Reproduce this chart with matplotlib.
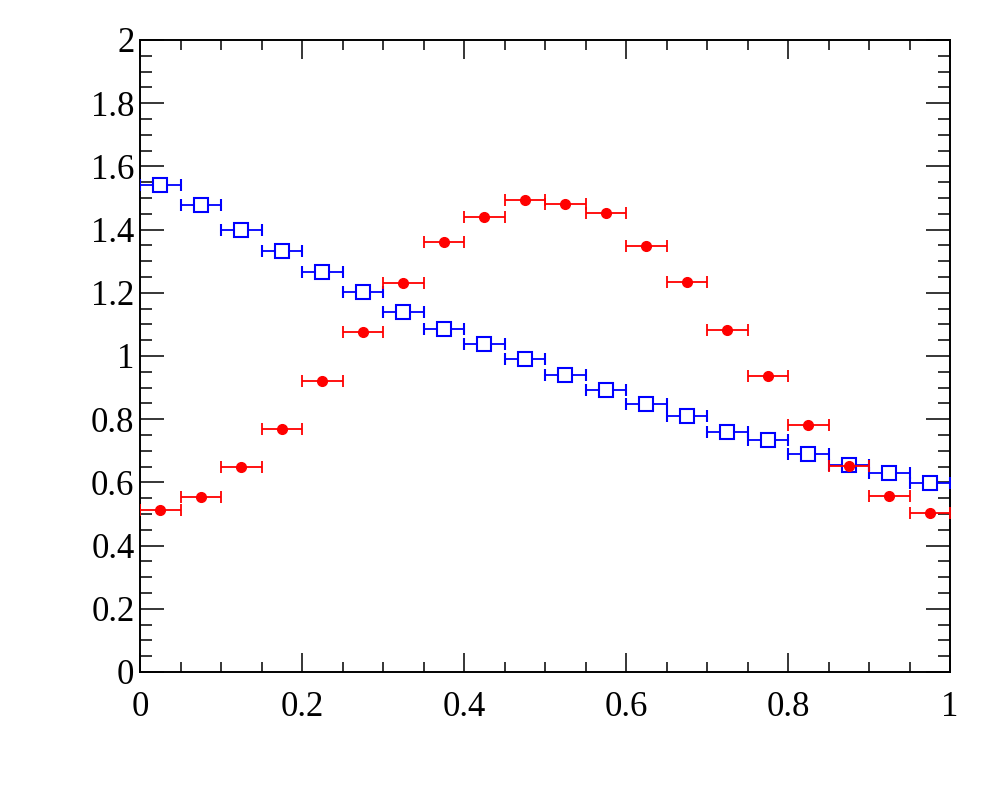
import matplotlib
matplotlib.use("Agg")
import matplotlib.pyplot as plt
from matplotlib.ticker import MultipleLocator, FuncFormatter

bin_centers = [0.025, 0.075, 0.125, 0.175, 0.225, 0.275, 0.325, 0.375, 0.425, 0.475,
               0.525, 0.575, 0.625, 0.675, 0.725, 0.775, 0.825, 0.875, 0.925, 0.975]
bin_halfwidth = 0.025
blue_values = [1.541, 1.478, 1.399, 1.332, 1.266, 1.203, 1.139, 1.085, 1.038, 0.990,
               0.940, 0.892, 0.848, 0.810, 0.759, 0.734, 0.690, 0.655, 0.630, 0.598]
red_values = [0.513, 0.554, 0.649, 0.769, 0.921, 1.076, 1.231, 1.361, 1.440, 1.494,
              1.481, 1.453, 1.348, 1.234, 1.082, 0.937, 0.782, 0.652, 0.557, 0.503]

plt.rcParams['font.family'] = ['Liberation Serif', 'DejaVu Serif']

fig = plt.figure(figsize=(10, 8), dpi=100)
ax = fig.add_axes([0.14, 0.16, 0.81, 0.79])

ax.errorbar(bin_centers, blue_values, xerr=bin_halfwidth, fmt='s', color='#0000ff',
            mfc='white', mec='#0000ff', ms=10, mew=1.5, elinewidth=1.3,
            capsize=4, capthick=1.3, zorder=3)
ax.errorbar(bin_centers, red_values, xerr=bin_halfwidth, fmt='o', color='#ff0000',
            mfc='#ff0000', mec='#ff0000', ms=7, elinewidth=1.3,
            capsize=4, capthick=1.3, zorder=4)

ax.set_xlim(0, 1)
ax.set_ylim(0, 2)

def fmt(v, pos):
    s = f"{v:.1f}"
    if s.endswith(".0"):
        s = s[:-2]
    return s

ax.xaxis.set_major_locator(MultipleLocator(0.2))
ax.xaxis.set_minor_locator(MultipleLocator(0.05))
ax.yaxis.set_major_locator(MultipleLocator(0.2))
ax.yaxis.set_minor_locator(MultipleLocator(0.05))
ax.xaxis.set_major_formatter(FuncFormatter(fmt))
ax.yaxis.set_major_formatter(FuncFormatter(fmt))

ax.tick_params(axis='both', which='both', direction='in', top=True, right=True,
               labelsize=25, width=1.1, colors='black')
ax.tick_params(axis='y', which='major', length=17, pad=4)
ax.tick_params(axis='y', which='minor', length=8.5)
ax.tick_params(axis='x', which='major', length=14, pad=14)
ax.tick_params(axis='x', which='minor', length=7)

for sp in ax.spines.values():
    sp.set_linewidth(1.4)

fig.savefig('out.png', dpi=100, facecolor='white')
